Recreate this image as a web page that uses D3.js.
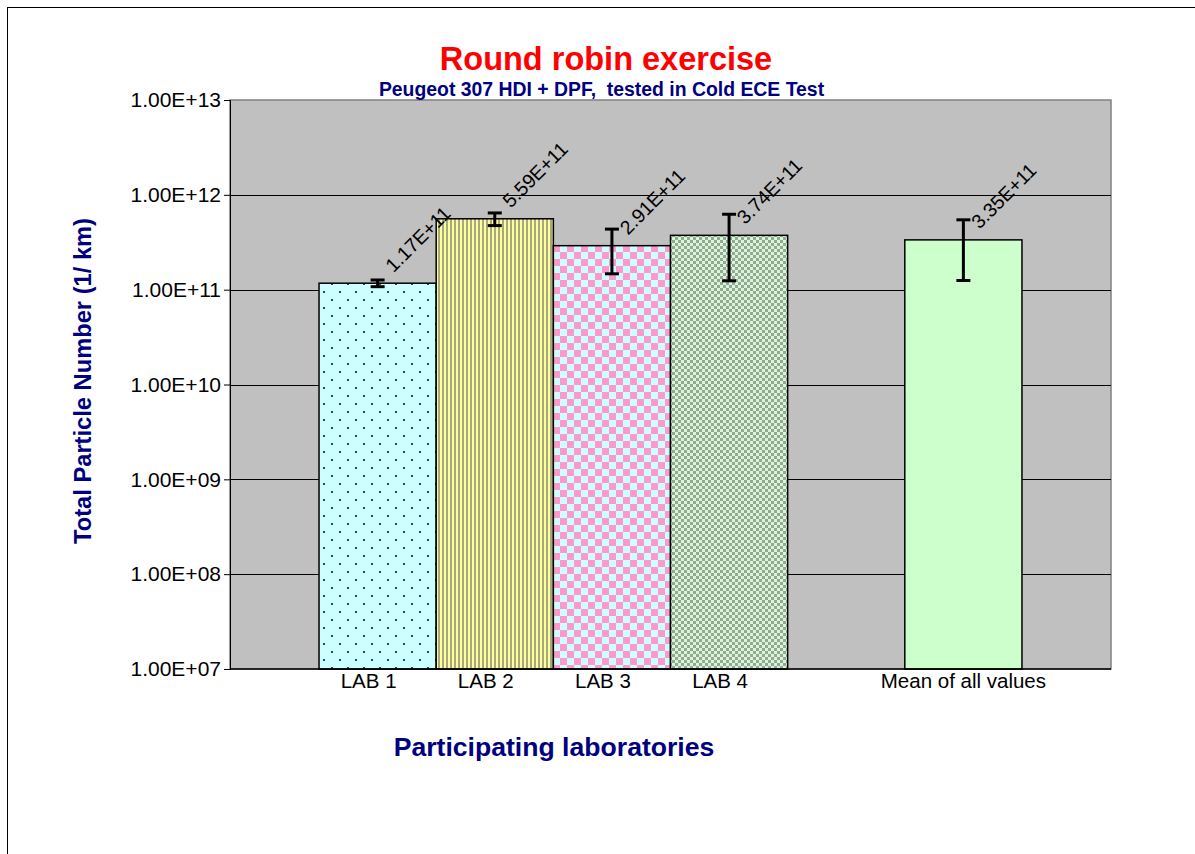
<!DOCTYPE html>
<html><head><meta charset="utf-8">
<script src="https://cdn.jsdelivr.net/npm/d3@7"></script>
<style>
html,body{margin:0;padding:0;background:#fff;}
svg{display:block;font-family:"Liberation Sans",Arial,sans-serif;}
</style></head>
<body><svg id="chart" width="1195" height="854"></svg>
<script>
const slots = ["LAB 1","LAB 2","LAB 3","LAB 4","gap","Mean of all values"];
const labs = ["LAB 1","LAB 2","LAB 3","LAB 4","Mean of all values"];
const values = [1.17e11, 5.59e11, 2.91e11, 3.74e11, 3.35e11];
const errors = [0.095e11, 0.85e11, 1.44e11, 2.5e11, 2.1e11];
const yTicks = [1e7,1e8,1e9,1e10,1e11,1e12,1e13];
const fills = ["url(#pDots)","url(#pStripes)","url(#pBigCheck)","url(#pSmallCheck)","#CCFFCC"];

const svg = d3.select("#chart");
const m = {left:230, right:1111, top:100, bottom:669};

// outer border
svg.append("rect").attr("x",7.5).attr("y",7.5).attr("width",1300).attr("height",1000)
  .attr("fill","#fff").attr("stroke","#000").attr("stroke-width",1);

const defs = svg.append("defs");
let p = defs.append("pattern").attr("id","pDots").attr("patternUnits","userSpaceOnUse").attr("width",16).attr("height",16);
p.append("rect").attr("width",16).attr("height",16).attr("fill","#CCFFFF");
p.append("rect").attr("x",3).attr("y",3).attr("width",2).attr("height",2).attr("fill","#2a4a4a");
p.append("rect").attr("x",11).attr("y",11).attr("width",2).attr("height",2).attr("fill","#2a4a4a");
p = defs.append("pattern").attr("id","pStripes").attr("patternUnits","userSpaceOnUse").attr("width",4).attr("height",4);
p.append("rect").attr("width",4).attr("height",4).attr("fill","#FFFF99");
p.append("rect").attr("x",2).attr("width",2).attr("height",4).attr("fill","#A8A882");
p = defs.append("pattern").attr("id","pBigCheck").attr("patternUnits","userSpaceOnUse").attr("width",14).attr("height",14);
p.append("rect").attr("width",14).attr("height",14).attr("fill","#CCFFFF");
p.append("rect").attr("width",7).attr("height",7).attr("fill","#FF99CC");
p.append("rect").attr("x",7).attr("y",7).attr("width",7).attr("height",7).attr("fill","#FF99CC");
p = defs.append("pattern").attr("id","pSmallCheck").attr("patternUnits","userSpaceOnUse").attr("width",6).attr("height",6);
p.append("rect").attr("width",6).attr("height",6).attr("fill","#CCFFCC");
p.append("rect").attr("width",3).attr("height",3).attr("fill","#A0A0A0");
p.append("rect").attr("x",3).attr("y",3).attr("width",3).attr("height",3).attr("fill","#A0A0A0");

const x = d3.scaleBand().domain(slots).range([m.left,m.right]).paddingInner(0).paddingOuter(0.76);
const y = d3.scaleLog().domain([1e7,1e13]).range([m.bottom,m.top]);

svg.append("rect").attr("x",m.left).attr("y",m.top).attr("width",m.right-m.left).attr("height",m.bottom-m.top)
  .attr("fill","#C0C0C0").attr("stroke","#808080").attr("stroke-width",1.5);

svg.append("g").selectAll("line").data(yTicks.slice(1,-1)).join("line")
  .attr("x1",m.left).attr("x2",m.right).attr("y1",d=>Math.round(y(d))+0.5).attr("y2",d=>Math.round(y(d))+0.5)
  .attr("stroke","#000").attr("stroke-width",1);

const fmt = v => { const e = Math.floor(Math.log10(v)+1e-9); const mnt = v/Math.pow(10,e); return mnt.toFixed(2)+"E+"+String(e).padStart(2,"0"); };

const yAxis = svg.append("g").attr("transform",`translate(${m.left},0)`)
  .call(d3.axisLeft(y).tickValues(yTicks).tickFormat(fmt).tickSize(6).tickPadding(3));
yAxis.select(".domain").attr("stroke","#000");
yAxis.selectAll(".tick line").attr("stroke","#000");
yAxis.selectAll("text").attr("font-size",21).attr("fill","#000").attr("font-family","Liberation Sans, Arial, sans-serif");

const bars = svg.append("g");
bars.selectAll("rect").data(labs).join("rect")
  .attr("x",d=>x(d)).attr("width",x.bandwidth())
  .attr("y",(d,i)=>y(values[i])).attr("height",(d,i)=>m.bottom-y(values[i]))
  .attr("fill",(d,i)=>fills[i]).attr("stroke","#000").attr("stroke-width",1.5);

svg.append("line").attr("x1",m.left).attr("x2",m.right).attr("y1",m.bottom).attr("y2",m.bottom).attr("stroke","#000").attr("stroke-width",1.5);

const xAxis = svg.append("g").attr("transform",`translate(0,${m.bottom})`)
  .call(d3.axisBottom(x).tickValues(labs).tickSize(0).tickPadding(4));
xAxis.select(".domain").remove();
xAxis.selectAll("text").attr("font-size",20.5).attr("fill","#000").attr("font-family","Liberation Sans, Arial, sans-serif")
  .attr("dx",d=>d.startsWith("LAB")?-9:0);

const eb = svg.append("g").attr("stroke","#000").attr("stroke-width",3);
labs.forEach((d,i)=>{
  const cx = x(d)+x.bandwidth()/2;
  const yt = y(values[i]+errors[i]), yb = y(values[i]-errors[i]);
  eb.append("line").attr("x1",cx).attr("x2",cx).attr("y1",yt).attr("y2",yb);
  eb.append("line").attr("x1",cx-7).attr("x2",cx+7).attr("y1",yt).attr("y2",yt);
  eb.append("line").attr("x1",cx-7).attr("x2",cx+7).attr("y1",yb).attr("y2",yb);
});

svg.append("g").selectAll("text").data(labs).join("text")
  .attr("transform",(d,i)=>`translate(${x(d)+x.bandwidth()/2+16},${y(values[i])-10}) rotate(-45)`)
  .attr("font-size",19.5).attr("fill","#000").text((d,i)=>fmt(values[i]));

svg.append("text").attr("x",606).attr("y",70).attr("text-anchor","middle")
  .attr("font-size",32.5).attr("font-weight","bold").attr("fill","#FF0000").text("Round robin exercise");
svg.append("text").attr("x",601.5).attr("y",96).attr("text-anchor","middle")
  .attr("font-size",19.4).attr("font-weight","bold").attr("fill","#000080").attr("xml:space","preserve")
  .style("white-space","pre").text("Peugeot 307 HDI + DPF,  tested in Cold ECE Test");
svg.append("text").attr("x",554).attr("y",756).attr("text-anchor","middle")
  .attr("font-size",26.6).attr("font-weight","bold").attr("fill","#000080").text("Participating laboratories");
svg.append("text").attr("transform","translate(91,381) rotate(-90)").attr("text-anchor","middle")
  .attr("font-size",23.7).attr("font-weight","bold").attr("fill","#000080").text("Total Particle Number (1/ km)");
</script></body></html>
